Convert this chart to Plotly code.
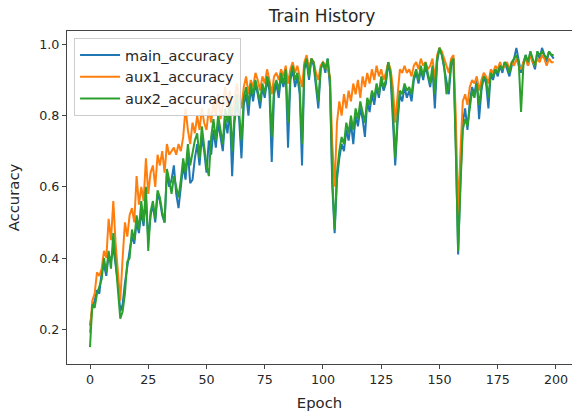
import plotly.graph_objects as go

epochs = list(range(200))

main_accuracy = [
    0.21, 0.26, 0.28, 0.31, 0.30, 0.36, 0.38, 0.35, 0.41, 0.39,
    0.43, 0.38, 0.33, 0.25, 0.27, 0.33, 0.38, 0.42, 0.46, 0.44,
    0.50, 0.47, 0.53, 0.49, 0.57, 0.45, 0.52, 0.55, 0.50, 0.58,
    0.56, 0.52, 0.50, 0.64, 0.60, 0.62, 0.66, 0.58, 0.54, 0.60,
    0.66, 0.62, 0.70, 0.61, 0.62, 0.68, 0.72, 0.66, 0.74, 0.70,
    0.64, 0.73, 0.69, 0.76, 0.71, 0.78, 0.74, 0.70, 0.79, 0.75,
    0.82, 0.63, 0.78, 0.84, 0.79, 0.68, 0.83, 0.86, 0.80, 0.88,
    0.84, 0.89, 0.86, 0.82, 0.88, 0.85, 0.90, 0.87, 0.67, 0.86,
    0.89, 0.85, 0.91, 0.88, 0.92, 0.71, 0.90, 0.93, 0.88, 0.91,
    0.86, 0.66, 0.93, 0.95, 0.90, 0.96, 0.94, 0.88, 0.82, 0.93,
    0.95, 0.92, 0.96, 0.88, 0.60, 0.47, 0.62, 0.68, 0.72, 0.70,
    0.76, 0.73, 0.78, 0.72, 0.80, 0.77, 0.82, 0.79, 0.74, 0.84,
    0.81, 0.86, 0.83, 0.88, 0.85, 0.90, 0.87, 0.89, 0.95, 0.91,
    0.80, 0.66, 0.78, 0.86, 0.84, 0.88, 0.85, 0.87, 0.84, 0.90,
    0.92, 0.89, 0.93, 0.90, 0.94, 0.91, 0.88, 0.93, 0.82, 0.95,
    0.99, 0.97, 0.93, 0.90, 0.86, 0.94, 0.96, 0.72, 0.41, 0.62,
    0.78, 0.82, 0.76, 0.84, 0.88, 0.86, 0.90, 0.79, 0.87, 0.91,
    0.89, 0.82, 0.92, 0.90, 0.93, 0.91, 0.94, 0.92, 0.95, 0.93,
    0.91, 0.94, 0.96, 0.99, 0.95, 0.92, 0.95, 0.97, 0.94, 0.98,
    0.95, 0.93, 0.98, 0.96, 0.99, 0.97, 0.95, 0.98, 0.97, 0.96,
]

aux1_accuracy = [
    0.19, 0.28, 0.30, 0.36, 0.35, 0.37, 0.42, 0.40, 0.51, 0.45,
    0.56, 0.44, 0.36, 0.28, 0.40, 0.50, 0.46, 0.52, 0.54, 0.50,
    0.63, 0.55, 0.60, 0.56, 0.68, 0.58, 0.64, 0.66, 0.60, 0.69,
    0.66, 0.70, 0.64, 0.72, 0.69, 0.70, 0.71, 0.69, 0.72, 0.70,
    0.74, 0.82, 0.76, 0.72, 0.78, 0.75, 0.80, 0.76, 0.82, 0.78,
    0.76, 0.82, 0.78, 0.84, 0.80, 0.86, 0.79, 0.83, 0.88, 0.82,
    0.87, 0.80, 0.84, 0.89, 0.85, 0.82, 0.88, 0.91, 0.86, 0.90,
    0.88, 0.92, 0.90, 0.87, 0.91, 0.89, 0.93, 0.90, 0.86, 0.91,
    0.92, 0.90, 0.93, 0.91, 0.94, 0.89, 0.93, 0.95, 0.92, 0.94,
    0.91, 0.88, 0.95, 0.97, 0.93, 0.96, 0.95, 0.92, 0.90, 0.94,
    0.95, 0.94, 0.93, 0.91, 0.72, 0.60, 0.78, 0.84, 0.80, 0.86,
    0.82, 0.87, 0.84, 0.89, 0.86, 0.90, 0.85, 0.91, 0.88, 0.92,
    0.89, 0.93, 0.90, 0.94, 0.91, 0.93, 0.90, 0.92, 0.95, 0.93,
    0.88, 0.78, 0.86, 0.93, 0.92, 0.94, 0.92, 0.93, 0.91, 0.94,
    0.95, 0.93, 0.96, 0.94, 0.95, 0.93, 0.94, 0.96, 0.90, 0.97,
    0.99, 0.98, 0.96, 0.94, 0.92, 0.96, 0.97, 0.80, 0.52, 0.70,
    0.84, 0.86, 0.83, 0.88, 0.90, 0.89, 0.91, 0.87, 0.90, 0.92,
    0.91, 0.89, 0.93, 0.92, 0.94, 0.93, 0.95, 0.93, 0.94, 0.95,
    0.93, 0.95, 0.94, 0.96, 0.94, 0.93, 0.95, 0.96, 0.94, 0.97,
    0.95, 0.94, 0.96, 0.95, 0.97, 0.96, 0.94, 0.96, 0.95, 0.95,
]

aux2_accuracy = [
    0.15, 0.27, 0.26, 0.30, 0.32, 0.34, 0.40, 0.36, 0.42, 0.37,
    0.47, 0.40, 0.31, 0.23, 0.25, 0.30, 0.39, 0.40, 0.48, 0.45,
    0.52, 0.48, 0.56, 0.50, 0.60, 0.42, 0.53, 0.56, 0.51, 0.59,
    0.57, 0.53, 0.50, 0.65, 0.62, 0.58, 0.63, 0.60, 0.57, 0.62,
    0.68, 0.64, 0.72, 0.66, 0.70, 0.73, 0.75, 0.68, 0.77, 0.72,
    0.66, 0.63, 0.74, 0.79, 0.73, 0.80, 0.76, 0.72, 0.82, 0.78,
    0.84, 0.70, 0.80, 0.86, 0.81, 0.73, 0.85, 0.88, 0.83, 0.89,
    0.86, 0.90, 0.87, 0.84, 0.89, 0.86, 0.91, 0.89, 0.74, 0.88,
    0.90, 0.87, 0.92, 0.89, 0.93, 0.78, 0.91, 0.94, 0.90, 0.92,
    0.88, 0.72, 0.94, 0.96, 0.91, 0.96, 0.95, 0.90, 0.84, 0.93,
    0.95, 0.93, 0.96, 0.90, 0.62, 0.48, 0.64, 0.70, 0.74, 0.72,
    0.78, 0.75, 0.80, 0.76, 0.82, 0.79, 0.84, 0.81, 0.78, 0.85,
    0.83, 0.87, 0.85, 0.89, 0.86, 0.91, 0.88, 0.90, 0.95, 0.92,
    0.82, 0.68, 0.80, 0.87, 0.86, 0.89, 0.87, 0.88, 0.86, 0.91,
    0.93, 0.90, 0.94, 0.91, 0.95, 0.92, 0.89, 0.94, 0.86, 0.96,
    0.99, 0.97, 0.94, 0.86, 0.88, 0.95, 0.96, 0.70, 0.42, 0.60,
    0.76, 0.79, 0.77, 0.82, 0.87, 0.85, 0.89, 0.83, 0.88, 0.91,
    0.90, 0.85, 0.92, 0.91, 0.93, 0.92, 0.94, 0.93, 0.95, 0.94,
    0.92, 0.95, 0.96, 0.97, 0.95, 0.81, 0.94, 0.97, 0.95, 0.98,
    0.96, 0.94, 0.98, 0.97, 0.98, 0.97, 0.96, 0.98, 0.97, 0.97,
]

x_ticks = [0, 25, 50, 75, 100, 125, 150, 175, 200]
y_ticks = [0.2, 0.4, 0.6, 0.8, 1.0]

series = [
    ("main_accuracy", main_accuracy, "#1f77b4"),
    ("aux1_accuracy", aux1_accuracy, "#ff7f0e"),
    ("aux2_accuracy", aux2_accuracy, "#2ca02c"),
]

FONT = "DejaVu Sans"
fig = go.Figure()
for name, vals, color in series:
    fig.add_trace(go.Scatter(
        x=epochs, y=vals, mode="lines", name=name,
        legendgroup=name,
        line=dict(color=color, width=2),
        hoverinfo="skip",
    ))

fig.update_layout(
    width=572, height=415,
    margin=dict(l=67, r=0, t=31, b=51),
    paper_bgcolor="white", plot_bgcolor="white",
    font=dict(family=FONT, color="#262626", size=12.7),
    title=dict(text="Train History", x=322 / 572, xref="container", xanchor="center",
               y=1 - 16 / 415, yref="container", yanchor="middle",
               font=dict(family=FONT, size=17, color="#262626")),
    showlegend=True,
    legend=dict(x=0.014, y=0.979, xanchor="left", yanchor="top",
                bgcolor="rgba(255,255,255,0.85)", bordercolor="#cccccc", borderwidth=1,
                font=dict(family=FONT, size=14.5, color="#262626"),
                tracegroupgap=4, traceorder="normal", itemwidth=40),
)

fig.update_xaxes(
    range=[-9.87, 206.87], tickvals=x_ticks, ticktext=[str(t) for t in x_ticks],
    showgrid=False, zeroline=False, showline=True, mirror=True, automargin=False,
    linecolor="#444444", linewidth=1.2,
    ticks="outside", ticklen=4, tickwidth=1, tickcolor="#444444",
    title=dict(text="Epoch", font=dict(family=FONT, size=14.8), standoff=11),
)
fig.update_yaxes(
    range=[0.1025, 1.0375], tickvals=y_ticks, ticktext=[f"{t:.1f}" for t in y_ticks],
    showgrid=False, zeroline=False, showline=True, mirror=False, automargin=False,
    linecolor="#444444", linewidth=1.2,
    ticks="outside", ticklen=4, tickwidth=1, tickcolor="#444444",
    title=dict(text="Accuracy", font=dict(family=FONT, size=14.8), standoff=15),
)

fig.write_html("out.html",
               config={"displayModeBar": False},
               post_script="document.body.style.margin='0';document.body.style.overflow='hidden';")
